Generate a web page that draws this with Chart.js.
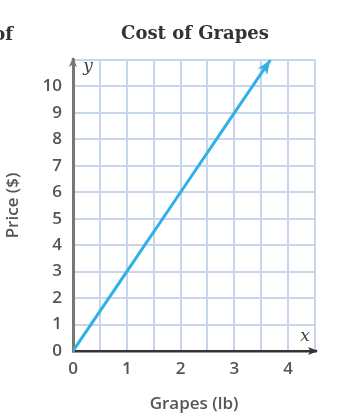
<!DOCTYPE html>
<html>
<head>
<meta charset="utf-8">
<script src="https://cdn.jsdelivr.net/npm/chart.js@4"></script>
<style>
  html, body { margin: 0; padding: 0; background: #fff; }
  #grapes { display: block; }
</style>
</head>
<body>
<canvas id="grapes" width="357" height="416"></canvas>
<script>
// cost of grapes: price rises 3 dollars per pound
const grapesLb = [0, 1, 2, 3, 3.67];
const priceUsd = [0, 3, 6, 9, 11];
const xLabelled = [0, 1, 2, 3, 4];
const yLabelled = [0, 1, 2, 3, 4, 5, 6, 7, 8, 9, 10];
const xRange = [0, 4.5];
const yRange = [0, 11];

const points = grapesLb.map((g, i) => ({ x: g, y: priceUsd[i] }));

function tri(ctx, x, y, ang, len, wid) {
  ctx.save();
  ctx.translate(x, y);
  ctx.rotate(ang);
  ctx.beginPath();
  ctx.moveTo(0, 0);
  ctx.lineTo(-len, -wid / 2);
  ctx.lineTo(-len * 0.75, 0);
  ctx.lineTo(-len, wid / 2);
  ctx.closePath();
  ctx.fill();
  ctx.restore();
}

const extras = {
  id: 'extras',
  afterDraw(chart) {
    const ctx = chart.ctx;
    const xs = chart.scales.x, ys = chart.scales.y;
    const x0 = xs.getPixelForValue(0), y0 = ys.getPixelForValue(0);

    // axis arrows
    ctx.fillStyle = '#333';
    ctx.strokeStyle = '#333';
    ctx.lineWidth = 2.5;
    ctx.beginPath();
    ctx.moveTo(xs.right, y0);
    ctx.lineTo(xs.right + 2, y0);
    ctx.stroke();
    tri(ctx, xs.right + 3, y0, 0, 10, 8);
    ctx.fillStyle = '#777';
    ctx.strokeStyle = '#777';
    ctx.beginPath();
    ctx.moveTo(x0, ys.top);
    ctx.lineTo(x0, ys.top - 2);
    ctx.stroke();
    tri(ctx, x0, ys.top - 3, -Math.PI / 2, 10, 8);

    // arrowhead at end of line
    const meta = chart.getDatasetMeta(0).data;
    const a = meta[meta.length - 2], b = meta[meta.length - 1];
    ctx.fillStyle = '#2fb0e6';
    tri(ctx, b.x, b.y, Math.atan2(b.y - a.y, b.x - a.x), 14, 11);

    // axis letters
    ctx.fillStyle = '#444';
    ctx.font = 'italic 17px "DejaVu Serif"';
    ctx.textAlign = 'center';
    ctx.textBaseline = 'middle';
    ctx.fillText('x', xs.right - 10, y0 - 14);
    ctx.fillText('y', x0 + 15, ys.top + 7);

    // title and cut-off neighbour text
    ctx.fillStyle = '#333';
    ctx.font = 'bold 18px "DejaVu Serif"';
    ctx.fillText('Cost of Grapes', 195, 34);
    ctx.textAlign = 'right';
    ctx.fillText('of', 13, 35);
  }
};

new Chart(document.getElementById('grapes').getContext('2d'), {
  type: 'scatter',
  data: {
    datasets: [{
      data: points,
      showLine: true,
      borderColor: '#2fb0e6',
      borderWidth: 3,
      pointRadius: 0,
      fill: false
    }]
  },
  options: {
    responsive: false,
    animation: false,
    layout: { padding: { top: 60, right: 42, left: 0, bottom: 0 } },
    plugins: { legend: { display: false }, tooltip: { enabled: false } },
    scales: {
      x: {
        type: 'linear',
        min: xRange[0], max: xRange[1],
        afterFit(s) { s.height = 65; },
        ticks: {
          stepSize: 0.5,
          autoSkip: false,
          maxRotation: 0,
          padding: 8,
          color: '#555',
          font: { family: 'Open Sans', size: 17, weight: '600' },
          callback: v => xLabelled.includes(v) ? String(v) : ''
        },
        grid: { color: '#c8d5ef', lineWidth: 2, drawTicks: false },
        border: { color: '#333', width: 2.5 },
        title: {
          display: true, text: 'Grapes (lb)', color: '#555',
          font: { family: 'Open Sans', size: 17, weight: '600' },
          padding: { top: 0, bottom: 2 }
        }
      },
      y: {
        type: 'linear',
        min: yRange[0], max: yRange[1],
        afterFit(s) { s.width = 73; },
        ticks: {
          stepSize: 1,
          autoSkip: false,
          padding: 11,
          color: '#555',
          font: { family: 'Open Sans', size: 17, weight: '600' },
          callback: v => yLabelled.includes(v) ? String(v) : ''
        },
        grid: { color: '#c8d5ef', lineWidth: 2, drawTicks: false },
        border: { color: '#777', width: 3 },
        title: {
          display: true, text: 'Price ($)', color: '#555',
          font: { family: 'Open Sans', size: 17, weight: '600' },
          padding: { top: 3, bottom: 0 }
        }
      }
    }
  },
  plugins: [extras]
});
</script>
</body>
</html>
